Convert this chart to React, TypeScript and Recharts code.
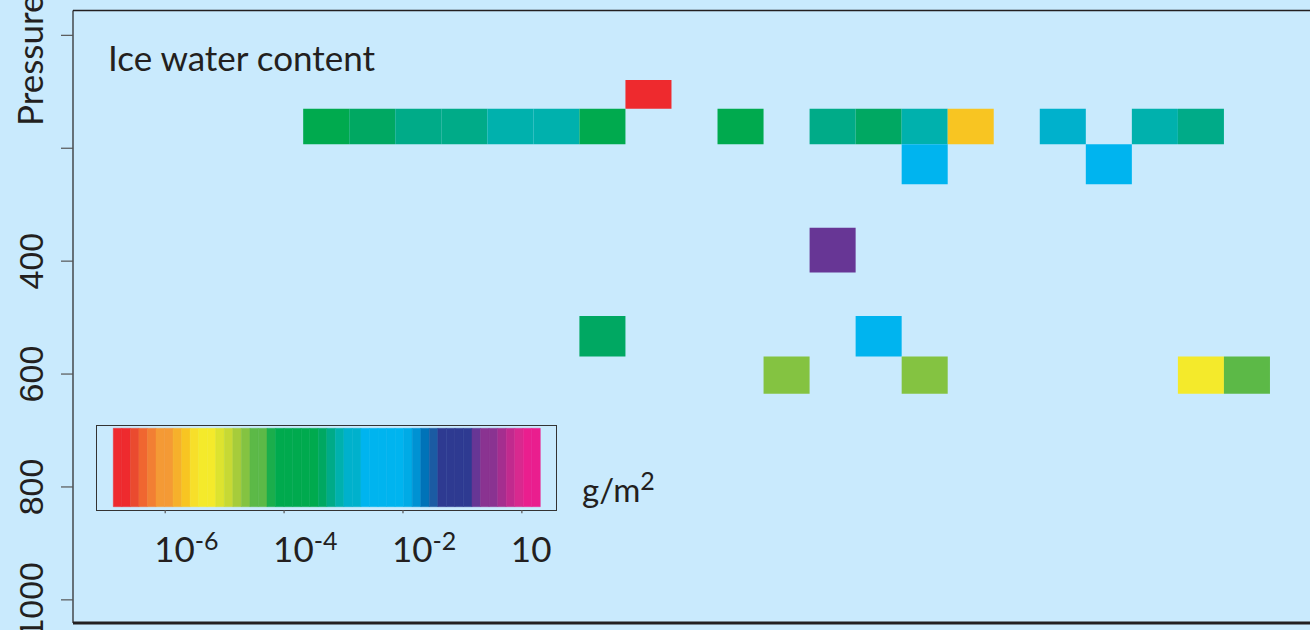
import React from "react";
import {
  ComposedChart,
  XAxis,
  YAxis,
  Scatter,
  ReferenceArea,
} from "recharts";

// pressure levels (hPa) used by the cells, top and bottom edge of each band
const levelTop = [79, 130, 193, 341, 497, 569];
const levelBottom = [130, 193, 264, 420, 569, 635];

// one entry per filled cell: level index, column index, log10 of ice water content (g/m2)
const cellLevel = [0, 1, 1, 1, 1, 1, 1, 1, 1, 1, 1, 1, 1, 1, 1, 1, 2, 2, 3, 4, 4, 5, 5, 5, 5];
const cellColumn = [12, 5, 6, 7, 8, 9, 10, 11, 14, 16, 17, 18, 19, 21, 23, 24, 18, 22, 16, 11, 17, 15, 18, 24, 25];
const cellLogIwc = [
  -6.8, -3.93, -3.35, -3.21, -3.21, -3.06, -3.06, -3.93, -3.93, -3.21, -3.35, -3.06, -5.65, -2.92, -3.06, -3.21,
  -2.49, -2.49, -0.8, -3.35, -2.49, -4.65, -4.65, -5.36, -4.36,
];

const pressureTicks = [0, 200, 400, 600, 800, 1000];

// colour scale
const scaleMin = -6.873;
const scaleMax = 0.31;
const bandColors = [
  "#ee2a2e", "#ee2a2e", "#ea4a2f", "#f06630", "#f27f33", "#f49a35", "#f49a35", "#f6b02b", "#f8c522", "#f7df2a",
  "#f4ea2b", "#f4ea2b", "#dde32f", "#c7d934", "#a6cc3b", "#84c341", "#5cb947", "#5cb947", "#1aae4c", "#00aa4e",
  "#00aa4e", "#00aa4e", "#00aa4e", "#00aa4e", "#00a862", "#00ab88", "#00b1ad", "#00b1cc", "#00b1cc", "#00b4ef",
  "#00b4ef", "#00b4ef", "#00b4ef", "#00b4ef", "#00abe6", "#0092d3", "#0073b8", "#1b5ba3", "#2e3a91", "#2e3a91",
  "#2e3a91", "#2e3a91", "#673695", "#8a3391", "#8a3391", "#a52e8f", "#c12a8e", "#d8298f", "#ea1e8e", "#ea1e8e",
];
const colorbarTicks = [-6, -4, -2, 0];
const colorbarBase = ["10", "10", "10", "10"];
const colorbarExp = ["-6", "-4", "-2", ""];

const BG = "#c9eafd";
const INK = "#231f20";
const NCOLS = 27;

const step = (scaleMax - scaleMin) / bandColors.length;
const colorFor = (v: number) => {
  const i = Math.min(bandColors.length - 1, Math.max(0, Math.floor((v - scaleMin) / step)));
  return bandColors[i];
};

const cells = cellColumn.map((c, i) => ({
  x: c + 0.5,
  y: (levelTop[cellLevel[i]] + levelBottom[cellLevel[i]]) / 2,
  col: c,
  top: levelTop[cellLevel[i]],
  bottom: levelBottom[cellLevel[i]],
  color: colorFor(cellLogIwc[i]),
}));

const bands = bandColors.map((color, i) => ({
  x: scaleMin + (i + 0.5) * step,
  y: 0.5,
  lo: scaleMin + i * step,
  hi: scaleMin + (i + 1) * step,
  color,
}));

const PressureTick = (props: any) => {
  const { x, y, payload } = props;
  if (payload.value < 400) return <g />;
  const tx = x - 18;
  return (
    <text
      x={tx}
      y={y}
      transform={`rotate(-90 ${tx} ${y})`}
      textAnchor="middle"
      fontFamily="'Liberation Sans', Arial, sans-serif"
      fontSize={34}
      fill={INK}
    >
      {payload.value}
    </text>
  );
};

const PressureLabel = (props: any) => {
  const vb = props.viewBox || { x: 0, y: 0 };
  const x = vb.x + 43;
  const y = vb.y + 115.5;
  return (
    <text
      x={x}
      y={y}
      transform={`rotate(-90 ${x} ${y})`}
      textAnchor="start"
      fontFamily="Lato, sans-serif"
      fontSize={35}
      fill={INK}
    >
      Pressure
    </text>
  );
};

const ColorbarTick = (props: any) => {
  const { x, y, index } = props;
  return (
    <g>
      <line x1={x} x2={x} y1={y + 3.3} y2={y + 6.5} stroke="#555" strokeWidth={1.2} />
      <text x={x - 11} y={y + 55} fontFamily="Lato, sans-serif" fontSize={35} fill={INK}>
        {colorbarBase[index]}
        {colorbarExp[index] ? (
          <tspan fontSize={25} dy={-12}>
            {colorbarExp[index]}
          </tspan>
        ) : null}
      </text>
    </g>
  );
};

export default function App() {
  return (
    <div
      style={{
        position: "fixed",
        left: 0,
        top: 0,
        width: 1310,
        height: 630,
        overflow: "hidden",
        background: BG,
      }}
    >
      <div style={{ position: "absolute", left: 0, top: 0 }}>
        <ComposedChart width={1316} height={630} margin={{ top: 9.5, right: 0, bottom: 6, left: 0 }}>
          <XAxis
            dataKey="x"
            type="number"
            domain={[0, NCOLS]}
            allowDataOverflow
            tick={false}
            tickLine={false}
            height={1}
            axisLine={{ stroke: INK, strokeWidth: 3 }}
          />
          <XAxis
            xAxisId="top"
            orientation="top"
            type="number"
            domain={[0, NCOLS]}
            allowDataOverflow
            tick={false}
            tickLine={false}
            height={1}
            axisLine={{ stroke: INK, strokeWidth: 1.5 }}
          />
          <YAxis
            dataKey="y"
            type="number"
            reversed
            domain={[-44, 1041]}
            allowDataOverflow
            ticks={pressureTicks}
            width={73}
            tickSize={12}
            tickMargin={0}
            tickLine={{ stroke: "#555", strokeWidth: 1.2 }}
            axisLine={{ stroke: INK, strokeWidth: 1.2 }}
            tick={<PressureTick />}
            label={{ content: <PressureLabel /> }}
          />
          {cells.map((c, i) => (
            <ReferenceArea
              key={`cell-${i}`}
              x1={c.col}
              x2={c.col + 1}
              y1={c.top}
              y2={c.bottom}
              fill={c.color}
              fillOpacity={1}
              stroke="none"
              ifOverflow="visible"
            />
          ))}
          <Scatter data={cells} isAnimationActive={false} shape={() => <g />} />
          <Scatter data={cells} xAxisId="top" isAnimationActive={false} shape={() => <g />} />
        </ComposedChart>
      </div>

      <div
        style={{
          position: "absolute",
          left: 95.5,
          top: 424.5,
          width: 461,
          height: 86,
          border: `1.5px solid #333`,
          boxSizing: "border-box",
        }}
      />
      <div style={{ position: "absolute", left: 96, top: 425 }}>
        <ComposedChart width={461} height={150} margin={{ top: 3.3, right: 16.7, bottom: 18.3, left: 17.3 }}>
          <XAxis
            dataKey="x"
            type="number"
            domain={[scaleMin, scaleMax]}
            allowDataOverflow
            ticks={colorbarTicks}
            interval={0}
            height={50}
            axisLine={false}
            tickLine={false}
            tickSize={0}
            tickMargin={0}
            tick={<ColorbarTick />}
          />
          <YAxis dataKey="y" type="number" hide domain={[0, 1]} />
          {bands.map((b, i) => (
            <ReferenceArea
              key={`band-${i}`}
              x1={b.lo}
              x2={b.hi}
              y1={0}
              y2={1}
              fill={b.color}
              fillOpacity={1}
              stroke={b.color}
              strokeWidth={0.5}
              ifOverflow="visible"
            />
          ))}
          <Scatter data={bands} isAnimationActive={false} shape={() => <g />} />
        </ComposedChart>
      </div>

      <svg
        width={1310}
        height={630}
        style={{ position: "absolute", left: 0, top: 0, pointerEvents: "none" }}
      >
        <text x={108} y={71} fontFamily="Lato, sans-serif" fontSize={35} fill={INK}>
          Ice water content
        </text>
        <text x={582} y={502} fontFamily="Lato, sans-serif" fontSize={33} fill={INK}>
          g/m
          <tspan fontSize={25} dy={-12}>
            2
          </tspan>
        </text>
      </svg>
    </div>
  );
}
